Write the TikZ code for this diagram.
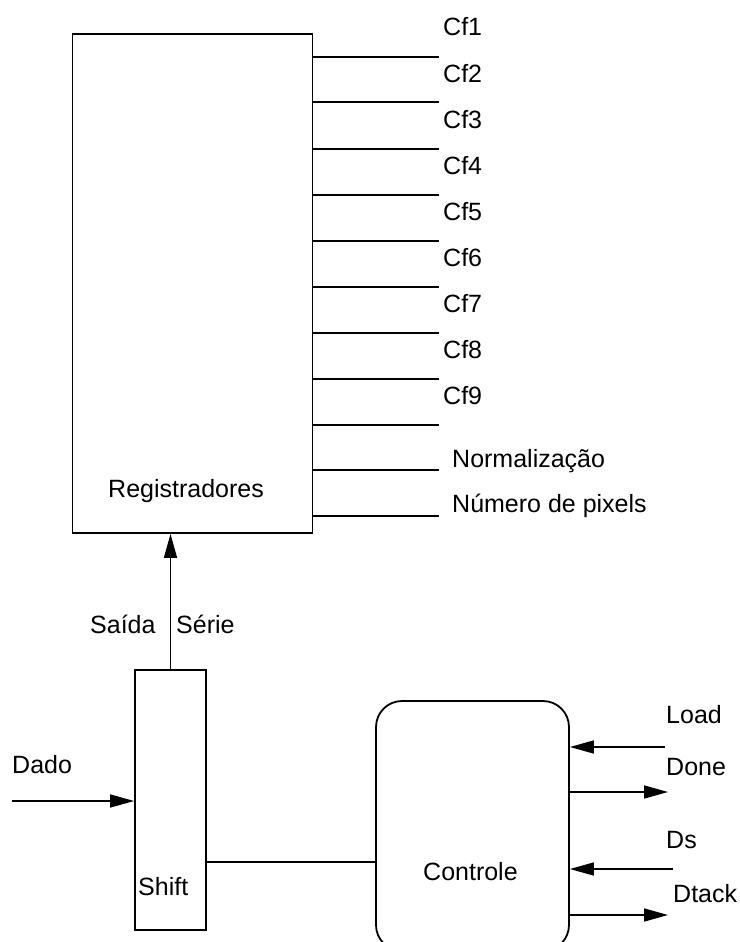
\documentclass[tikz,border=0pt]{standalone}
\usepackage{fontspec}
\setmainfont{Liberation Sans}
\usetikzlibrary{arrows.meta}
\tikzset{
  wire/.style={line width=1.6pt},
  arr/.style={wire,-{Triangle[length=24pt,width=13pt]}},
  box/.style={draw,line width=1.8pt,inner sep=0pt},
  lbl/.style={inner sep=0pt,anchor=base west,font=\fontsize{25}{28}\selectfont},
}
\begin{document}
\begin{tikzpicture}[x=1pt,y=-1pt]
\useasboundingbox (0,0) rectangle (739,942);
\clip (0,0) rectangle (739,942);
% Registradores box
\node[box,minimum width=240pt,minimum height=499pt] (reg) at (192.5,283.5) {};
\node[lbl] (regl) at (108,497) {Registradores};
% output lines
\foreach \i/\yy in {1/57,2/102,3/149,4/195,5/241,6/287,7/333,8/379,9/425,10/470,11/516}{
  \coordinate (o\i) at (439,\yy);
  \draw[wire] (reg.east |- o\i) -- (o\i);
}
\foreach \k in {1,...,9}{
  \node[lbl] (cf\k) at (443,{36+46*(\k-1)}) {Cf\k};
}
\node[lbl] (norm) at (452,467) {Normalização};
\node[lbl] (npix) at (452,512) {Número de pixels};
% Shift box
\node[box,minimum width=71pt,minimum height=260pt] (shift) at (170.5,800) {};
\node[lbl] (shiftl) at (138,895) {Shift};
\draw[arr] (shift.north) -- (reg.south -| shift.north);
\node[lbl] (saida) at (90,633) {Saída};
\node[lbl] (serie) at (176,633) {Série};
% Dado
\coordinate (din) at (12,801);
\draw[arr] (din) -- (shift.west |- din);
\node[lbl] (dado) at (12,773) {Dado};
% Controle
\node[box,rounded corners=26pt,minimum width=193pt,minimum height=250pt] (ctl) at (472.5,826) {};
\node[lbl] (ctll) at (423,880) {Controle};
\coordinate (sc) at (206,862);
\draw[wire] (shift.east |- sc) -- (ctl.west |- sc);
% control signals
\coordinate (load) at (665,747);
\coordinate (done) at (668,792);
\coordinate (ds) at (673,869);
\coordinate (dtack) at (668,915);
\draw[arr] (load) -- (ctl.east |- load);
\draw[arr] (ctl.east |- done) -- (done);
\draw[arr] (ds) -- (ctl.east |- ds);
\draw[arr] (ctl.east |- dtack) -- (dtack);
\node[lbl] (loadl) at (666,723) {Load};
\node[lbl] (donel) at (666,775) {Done};
\node[lbl] (dsl) at (666,848) {Ds};
\node[lbl] (dtackl) at (673,902) {Dtack};
\end{tikzpicture}
\end{document}
